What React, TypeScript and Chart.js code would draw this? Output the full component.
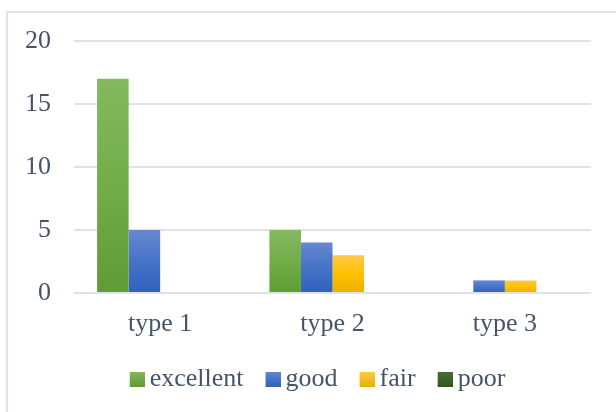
import React, { useEffect, useRef } from "react";
import { Chart, registerables } from "chart.js";

Chart.register(...registerables);

const categories = ["type 1", "type 2", "type 3"];
const seriesNames = ["excellent", "good", "fair", "poor"];
const excellentValues = [17, 5, 0];
const goodValues = [5, 4, 1];
const fairValues = [0, 3, 1];
const poorValues = [0, 0, 0];
const yTicks = [0, 5, 10, 15, 20];

const palette = [
  { top: "#84b95f", mid: "#72ad47", bottom: "#5f9c35" },
  { top: "#6688d0", mid: "#4673c6", bottom: "#2f61bc" },
  { top: "#ffc94c", mid: "#ffc000", bottom: "#e9b000" },
  { top: "#4c6e35", mid: "#3e6128", bottom: "#33561f" },
];

const TEXT = "#44546a";
const FONT = "'Liberation Serif', 'Times New Roman', serif";

function gradientFill(colors: { top: string; mid: string; bottom: string }) {
  return (ctx: any) => {
    const chart = ctx.chart;
    const y = chart?.scales?.y;
    if (ctx.type !== "data" || !y || !chart.chartArea) return colors.mid;
    const v = typeof ctx.raw === "number" ? ctx.raw : 0;
    const top = y.getPixelForValue(v);
    const base = y.getPixelForValue(0);
    if (!isFinite(top) || !isFinite(base) || Math.abs(base - top) < 1) return colors.mid;
    const g = chart.ctx.createLinearGradient(0, top, 0, base);
    g.addColorStop(0, colors.top);
    g.addColorStop(0.5, colors.mid);
    g.addColorStop(1, colors.bottom);
    return g;
  };
}

// legend swatch: a 15x15 square placed at the right end of a 23px-wide image
function legendSwatch(colors: { top: string; mid: string; bottom: string }) {
  const c = document.createElement("canvas");
  c.width = 23;
  c.height = 15;
  const g = c.getContext("2d");
  if (g) {
    const grad = g.createLinearGradient(0, 0, 0, 15);
    grad.addColorStop(0, colors.top);
    grad.addColorStop(1, colors.bottom);
    g.fillStyle = grad;
    g.fillRect(8, 0, 15, 15);
  }
  return c;
}

export default function App() {
  const ref = useRef<HTMLCanvasElement | null>(null);

  useEffect(() => {
    if (!ref.current) return;
    const values = [excellentValues, goodValues, fairValues, poorValues];
    const swatches = palette.map((p) => legendSwatch(p));
    const chart = new Chart(ref.current, {
      type: "bar",
      data: {
        labels: categories,
        datasets: seriesNames.map((name, i) => ({
          label: name,
          data: values[i],
          backgroundColor: gradientFill(palette[i]) as any,
          borderWidth: 0,
          barPercentage: 1,
          categoryPercentage: 0.732,
        })),
      },
      options: {
        animation: false,
        responsive: false,
        maintainAspectRatio: false,
        layout: { padding: { top: 41, left: 19, right: 0, bottom: 10 } },
        plugins: {
          tooltip: { enabled: false },
          legend: {
            position: "bottom",
            labels: {
              usePointStyle: true,
              pointStyleWidth: 7,
              boxHeight: 15,
              padding: 22,
              color: TEXT,
              font: { family: FONT, size: 26 },
              generateLabels: (c: any) =>
                c.data.datasets.map((d: any, i: number) => ({
                  text: d.label,
                  fillStyle: palette[i].mid,
                  strokeStyle: palette[i].mid,
                  lineWidth: 0,
                  pointStyle: swatches[i],
                  hidden: false,
                  datasetIndex: i,
                  fontColor: TEXT,
                })),
            },
          },
        },
        scales: {
          x: {
            grid: { display: false, drawTicks: false },
            border: { display: false },
            ticks: {
              color: TEXT,
              font: { family: FONT, size: 26 },
              padding: 16,
            },
            afterFit: (s: any) => {
              s.height = 51;
            },
          },
          y: {
            min: 0,
            max: 20,
            afterBuildTicks: (s: any) => {
              s.ticks = yTicks.map((v) => ({ value: v }));
            },
            grid: { color: "#dfe3e8", lineWidth: 2, drawTicks: false },
            border: { display: false },
            ticks: {
              color: TEXT,
              font: { family: FONT, size: 26 },
              padding: 23,
            },
            afterFit: (s: any) => {
              s.width = 55;
            },
          },
          y2: {
            position: "right",
            display: true,
            grid: { display: false, drawTicks: false },
            border: { display: false },
            ticks: { display: false },
            afterFit: (s: any) => {
              s.width = 25;
            },
          },
        },
      },
    });
    return () => chart.destroy();
  }, []);

  return (
    <div style={{ position: "fixed", left: 0, top: 0, width: 616, height: 412, background: "#fff", overflow: "hidden" }}>
      <div
        style={{
          position: "absolute",
          left: 6,
          top: 11,
          width: 700,
          height: 500,
          borderLeft: "2px solid #e0e4ea",
          borderTop: "2px solid #e0e4ea",
        }}
      />
      <canvas ref={ref} width={616} height={412} style={{ position: "absolute", left: 0, top: 0, width: 616, height: 412 }} />
    </div>
  );
}
